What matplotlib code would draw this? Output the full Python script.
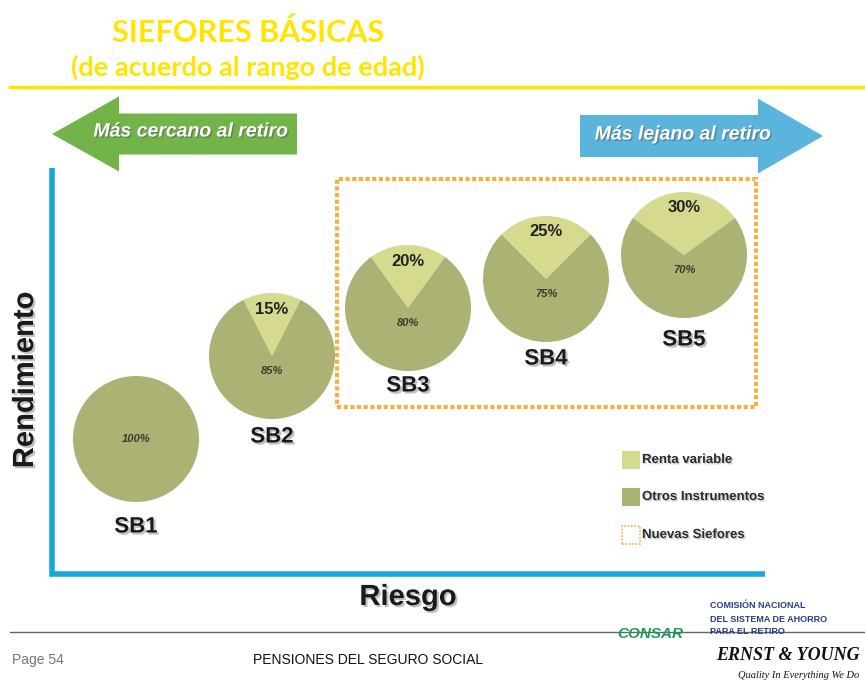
import matplotlib.pyplot as plt
import matplotlib.patheffects as pe
from matplotlib.patches import FancyArrow, Rectangle

# data
siefores = ["SB1", "SB2", "SB3", "SB4", "SB5"]
renta_variable = [0, 15, 20, 25, 30]
otros = [100, 85, 80, 75, 70]
legend_labels = ["Renta variable", "Otros Instrumentos", "Nuevas Siefores"]

# layout (pixel coords of the slide, y from top)
W, H = 865, 682
centers = [(136, 439), (272, 356), (408, 308), (546, 279), (684, 255)]
radius = 63
name_y = [527, 437, 386, 359, 340]

light = "#d5da8e"
dark = "#abb274"
shadow = [pe.withSimplePatchShadow(offset=(1.5, -1.5), shadow_rgbFace="#999999", alpha=0.6)]

def Y(py):
    return H - py

fig = plt.figure(figsize=(8.65, 6.82), dpi=100)
ax = fig.add_axes([0, 0, 1, 1])

for i, name in enumerate(siefores):
    cx, cy = centers[i]
    rv = renta_variable[i]
    vals = [rv, otros[i]] if rv > 0 else [otros[i]]
    cols = [light, dark] if rv > 0 else [dark]
    ax.pie(vals, colors=cols, center=(cx, Y(cy)), radius=radius,
           startangle=90 - rv * 3.6 / 2, frame=True,
           wedgeprops=dict(linewidth=0))
    if rv > 0:
        ax.text(cx, Y(cy - 47), "%d%%" % rv, ha="center", va="center",
                fontsize=12, fontweight="bold", color="#222222",
                family="Liberation Sans")
        ax.text(cx, Y(cy + 15), "%d%%" % otros[i], ha="center", va="center",
                fontsize=8, style="italic", fontweight="bold", color="#3a3a2a",
                family="Liberation Sans")
    else:
        ax.text(cx, Y(cy), "%d%%" % otros[i], ha="center", va="center",
                fontsize=8, style="italic", fontweight="bold", color="#3a3a2a",
                family="Liberation Sans")
    ax.text(cx, Y(name_y[i]), name, ha="center", va="center", fontsize=16,
            fontweight="bold", color="#1a1a1a", family="Liberation Sans",
            path_effects=shadow)

# dashed box for new siefores
ax.add_patch(Rectangle((337, Y(407)), 419, 228, fill=False, edgecolor="#f5b042",
                       linewidth=3, linestyle=(0, (1, 0.6))))

# axes lines
ax.plot([52, 52, 765], [Y(168), Y(574), Y(574)], color="#1aa6da", linewidth=4,
        solid_joinstyle="miter", solid_capstyle="butt")
ax.text(25, Y(380), "Rendimiento", rotation=90, ha="center", va="center",
        fontsize=21, fontweight="bold", color="#1a1a1a", family="Liberation Sans",
        path_effects=shadow)
ax.text(408, Y(597), "Riesgo", ha="center", va="center", fontsize=21,
        fontweight="bold", color="#1a1a1a", family="Liberation Sans",
        path_effects=shadow)

# arrows
ax.add_patch(FancyArrow(297, Y(134), -245, 0, width=41, head_width=75,
                        head_length=67, length_includes_head=True,
                        color="#72b34a", linewidth=0))
ax.add_patch(FancyArrow(580, Y(136), 243, 0, width=42, head_width=75,
                        head_length=65, length_includes_head=True,
                        color="#5ab4dc", linewidth=0))
arrow_shadow = [pe.withSimplePatchShadow(offset=(1, -1), shadow_rgbFace="#555555", alpha=0.5)]
ax.text(191, Y(132), "Más cercano al retiro", ha="center", va="center",
        fontsize=14, fontweight="bold", style="italic", color="white",
        family="Liberation Sans", path_effects=arrow_shadow)
ax.text(683, Y(135), "Más lejano al retiro", ha="center", va="center",
        fontsize=14, fontweight="bold", style="italic", color="white",
        family="Liberation Sans", path_effects=arrow_shadow)

# title
ax.text(248, Y(33), "SIEFORES BÁSICAS", ha="center", va="center", fontsize=22,
        fontweight="bold", color="#ffe500", family="Lato")
ax.text(248, Y(67), "(de acuerdo al rango de edad)", ha="center", va="center",
        fontsize=19.5, fontweight="bold", color="#ffe500", family="Lato")
ax.plot([10, W], [Y(87), Y(87)], color="#ffe500", linewidth=2.5)

# legend
leg_y = [460, 497, 535]
ax.add_patch(Rectangle((622, Y(469)), 18, 18, color=light, linewidth=0))
ax.add_patch(Rectangle((622, Y(506)), 18, 18, color=dark, linewidth=0))
ax.add_patch(Rectangle((622, Y(544)), 18, 18, fill=False, edgecolor="#f5b042",
                       linewidth=1.2, linestyle=(0, (1, 1))))
for ly, lab in zip(leg_y, legend_labels):
    ax.text(642, Y(ly), lab, ha="left", va="center", fontsize=9.5,
            fontweight="bold", color="#2a2a2a", family="Liberation Sans",
            path_effects=[pe.withSimplePatchShadow(offset=(1, -1), shadow_rgbFace="#aaaaaa", alpha=0.6)])

# footer
ax.plot([10, W], [Y(632), Y(632)], color="#666666", linewidth=1)
ax.text(12, Y(660), "Page 54", ha="left", va="center", fontsize=10,
        color="#777777", family="Liberation Sans")
ax.text(368, Y(660), "PENSIONES DEL SEGURO SOCIAL", ha="center", va="center",
        fontsize=10, color="#111111", family="Liberation Sans")

# logos as text
ax.text(650, Y(634), "CONSAR", ha="center", va="center", fontsize=11,
        fontweight="bold", style="italic", color="#1e9a5a", family="Liberation Sans")
for k, line in enumerate(["COMISIÓN NACIONAL", "DEL SISTEMA DE AHORRO", "PARA EL RETIRO"]):
    ax.text(710, Y(606 + 13 * k), line, ha="left", va="center", fontsize=6.5,
            fontweight="bold", color="#2a3a8a", family="Liberation Sans")
ax.text(716, Y(655), "ERNST & YOUNG", ha="left", va="center", fontsize=13,
        fontweight="bold", style="italic", color="#111111", family="Liberation Serif")
ax.text(738, Y(675), "Quality In Everything We Do", ha="left", va="center",
        fontsize=7.5, style="italic", color="#111111", family="Liberation Serif")

ax.set_xlim(0, W)
ax.set_ylim(0, H)
ax.set_aspect("equal")
ax.axis("off")

fig.savefig("out.png", dpi=100)
